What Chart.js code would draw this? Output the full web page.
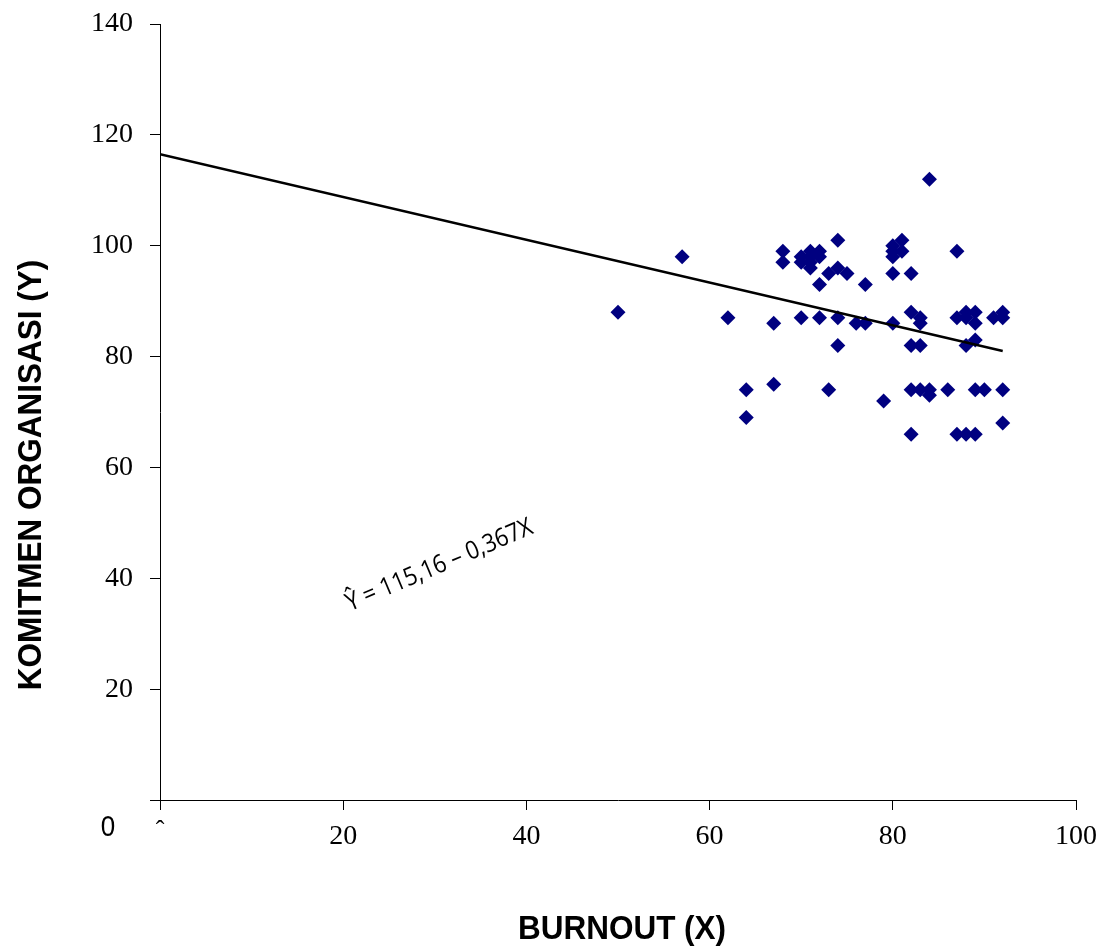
<!DOCTYPE html>
<html>
<head>
<meta charset="utf-8">
<script src="https://cdn.jsdelivr.net/npm/chart.js@4/dist/chart.umd.min.js"></script>
<style>
  html, body { margin: 0; padding: 0; background: #ffffff; }
  #wrap { width: 1105px; height: 950px; }
</style>
</head>
<body>
<div id="wrap"><canvas id="c" width="1105" height="950"></canvas></div>
<script>
// Burnout (X) scores
const burnoutX = [50, 57, 62, 64, 64, 67, 67, 68, 68, 70, 70, 70, 71, 71, 71, 71, 72, 72, 72, 72,
  73, 73, 74, 74, 74, 74, 75, 76, 77, 77, 79, 80, 80, 80, 80, 80, 81, 81, 82, 82,
  82, 82, 82, 83, 83, 83, 83, 84, 84, 84, 86, 87, 87, 87, 88, 88, 88, 88, 89, 89,
  89, 89, 89, 90, 91, 92, 92, 92, 92];
// Komitmen organisasi (Y) scores
const komitmenY = [88, 98, 87, 74, 69, 86, 75, 99, 97, 98, 97, 87, 99, 98, 96, 97, 99, 98, 93, 87,
  95, 74, 101, 96, 87, 82, 95, 86, 93, 86, 72, 100, 99, 98, 95, 86, 101, 99, 95, 88,
  82, 74, 66, 87, 86, 82, 74, 112, 74, 73, 74, 99, 87, 66, 88, 87, 82, 66, 88, 86,
  83, 74, 66, 74, 87, 88, 87, 74, 68];
// Regression (trend) line end values
const trendX = [0, 92];
const trendY = [116.5, 81];
// Axis ranges / ticks
const xTicks = [0, 20, 40, 60, 80, 100];
const yTicks = [0, 20, 40, 60, 80, 100, 120, 140];
const xTitle = 'BURNOUT (X)';
const yTitle = 'KOMITMEN ORGANISASI (Y)';
const equationText = 'Ŷ = 115,16 – 0,367X';

const scatterData = burnoutX.map((x, i) => ({ x: x, y: komitmenY[i] }));
const trendData = trendX.map((x, i) => ({ x: x, y: trendY[i] }));

const overlay = {
  id: 'overlay',
  afterDraw(chart) {
    const ctx = chart.ctx;
    const xs = chart.scales.x, ys = chart.scales.y;
    ctx.save();
    ctx.fillStyle = '#000';
    // X axis title
    ctx.save();
    ctx.translate(622, 930);
    ctx.scale(1, 1.08);
    ctx.font = 'bold 31.5px "Liberation Sans", Arial, sans-serif';
    ctx.textAlign = 'center';
    ctx.textBaseline = 'middle';
    ctx.fillText(xTitle, 0, 0);
    ctx.restore();
    // Y axis title
    ctx.save();
    ctx.translate(32, 475);
    ctx.rotate(-Math.PI / 2);
    ctx.scale(1, 1.08);
    ctx.font = 'bold 31.5px "Liberation Sans", Arial, sans-serif';
    ctx.textAlign = 'center';
    ctx.textBaseline = 'middle';
    ctx.fillText(yTitle, 0, 0);
    ctx.restore();
    // Origin "0" label
    ctx.save();
    ctx.font = '26px "Liberation Sans", Arial, sans-serif';
    ctx.textAlign = 'center';
    ctx.textBaseline = 'middle';
    ctx.translate(108, 828);
    ctx.scale(1, 1.1);
    ctx.fillText(String(yTicks[0]), 0, 0);
    ctx.restore();
    // truncated x-axis zero tick label
    ctx.save();
    ctx.font = '26px "Liberation Serif", "Times New Roman", serif';
    ctx.textAlign = 'center';
    ctx.textBaseline = 'top';
    ctx.fillText('ˆ', xs.getPixelForValue(xTicks[0]), 818);
    ctx.restore();
    // Regression equation
    ctx.save();
    ctx.translate(xs.getPixelForValue(30.5), ys.getPixelForValue(42.3));
    ctx.rotate(-23 * Math.PI / 180);
    ctx.scale(1, 1.12);
    ctx.font = '22.5px "Open Sans", "Liberation Sans", sans-serif';
    ctx.textAlign = 'center';
    ctx.textBaseline = 'middle';
    ctx.fillText(equationText, 0, 0);
    ctx.restore();
    ctx.restore();
  }
};

new Chart(document.getElementById('c'), {
  data: {
    datasets: [
      {
        type: 'line',
        data: trendData,
        borderColor: '#000000',
        borderWidth: 2.5,
        pointRadius: 0,
        fill: false,
        order: 0
      },
      {
        type: 'scatter',
        data: scatterData,
        pointStyle: 'rectRot',
        pointRadius: 7.5,
        pointBorderWidth: 0,
        backgroundColor: '#000080',
        borderColor: '#000080',
        order: 1
      }
    ]
  },
  options: {
    responsive: false,
    animation: false,
    devicePixelRatio: 1,
    layout: { padding: { left: 0, right: 29, top: 24, bottom: 0 } },
    plugins: { legend: { display: false }, tooltip: { enabled: false } },
    scales: {
      x: {
        type: 'linear',
        min: xTicks[0],
        max: xTicks[xTicks.length - 1],
        afterBuildTicks: s => { s.ticks = xTicks.map(v => ({ value: v })); },
        afterFit: s => { s.height = 150; s.paddingLeft = 0; s.paddingRight = 0; },
        grid: { display: true, drawOnChartArea: false, drawTicks: true, tickLength: 10, color: '#000', lineWidth: 1 },
        border: { display: true, color: '#000', width: 1 },
        ticks: {
          color: '#000',
          padding: 10,
          maxRotation: 0,
          font: { family: '"Liberation Serif", "Times New Roman", serif', size: 28 },
          callback: v => (v === 0 ? '' : v)
        }
      },
      y: {
        type: 'linear',
        min: yTicks[0],
        max: yTicks[yTicks.length - 1],
        afterBuildTicks: s => { s.ticks = yTicks.map(v => ({ value: v })); },
        afterFit: s => { s.width = 160; s.paddingTop = 0; s.paddingBottom = 0; },
        grid: { display: true, drawOnChartArea: false, drawTicks: true, tickLength: 10, color: '#000', lineWidth: 1 },
        border: { display: true, color: '#000', width: 1 },
        ticks: {
          color: '#000',
          padding: 17,
          font: { family: '"Liberation Serif", "Times New Roman", serif', size: 28 },
          callback: v => (v === 0 ? '' : v)
        }
      }
    }
  },
  plugins: [overlay]
});
</script>
</body>
</html>
